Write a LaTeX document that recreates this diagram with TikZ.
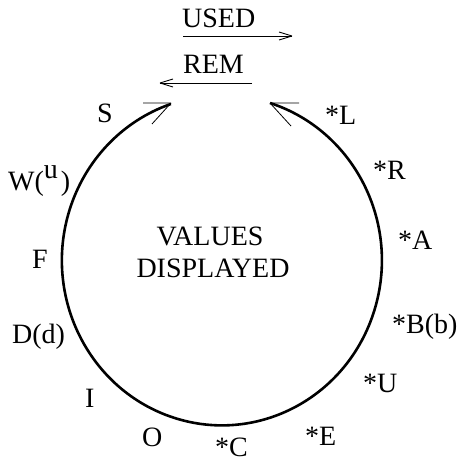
\documentclass[tikz,border=0pt]{standalone}
\usepackage{fontspec}
\setmainfont{Liberation Serif}
\begin{document}
\begin{tikzpicture}[x=1pt,y=-1pt,
  lbl/.style={anchor=base west,inner sep=0pt,font=\fontsize{28}{30}\selectfont},
  ctr/.style={anchor=base,inner sep=0pt,font=\fontsize{28}{30}\selectfont},
  ring/.style={line width=2.6pt},
  barb/.style={line width=0.8pt},
  thin/.style={line width=0.9pt}]
\useasboundingbox (0,0) rectangle (459,462);
% labels
\node[lbl] (used) at (182,28) {USED};
\node[lbl] (rem) at (183,74) {REM};
\node[lbl] (s) at (97,123) {S};
\node[lbl] (w) at (8,190) {W(\raisebox{12pt}{u}\hspace{3pt})};
\node[lbl] (f) at (32,268) {F};
\node[lbl] (dd) at (12,343) {D(d)};
\node[lbl] (i) at (85,407) {I};
\node[lbl] (o) at (142,446) {O};
\node[lbl] (c) at (215,456) {*C};
\node[lbl] (l) at (325,125) {*L};
\node[lbl] (r) at (373,179) {*R};
\node[lbl] (a) at (398,249) {*A};
\node[lbl] (b) at (392,333) {*B(b)};
\node[lbl] (u) at (363,392) {*U};
\node[lbl] (e) at (305,445) {*E};
\node[ctr] (values) at (210,245) {VALUES};
\node[ctr] (disp) at (213,277) {DISPLAYED};
% top arrows
\coordinate (usedA) at (183,36);
\coordinate (usedB) at (292,36);
\coordinate (remA) at (252,83);
\coordinate (remB) at (160,83);
\draw[thin] (usedA) -- (usedB);
\draw[thin] (usedB) -- ++(-13,-4) (usedB) -- ++(-13,4);
\draw[thin] (remA) -- (remB);
\draw[thin] (remB) -- ++(13,-4) (remB) -- ++(13,4);
% ring
\coordinate (tipL) at (171,103);
\coordinate (tipR) at (270,103);
\draw[ring] (tipR) arc[start angle=287.5,end angle=611.4,x radius=160,y radius=165];
\draw[barb] (tipL) -- (143,103) (tipL) -- (152,124);
\draw[barb] (tipR) -- (299,103) (tipR) -- (291,126);
\end{tikzpicture}
\end{document}
